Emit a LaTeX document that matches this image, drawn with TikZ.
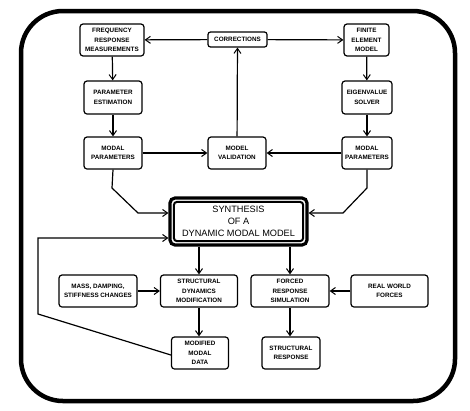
\documentclass[tikz,border=0pt]{standalone}
\usepackage{fontspec}
\setmainfont{Liberation Sans}
\usetikzlibrary{arrows.meta}
\begin{document}
\begin{tikzpicture}[x=1pt,y=-1pt,
  box/.style={draw, line width=1.2pt, rounded corners=3pt, align=center, inner sep=0pt,
    font=\fontsize{6.3}{9.5}\selectfont\bfseries, minimum height=32pt},
  conn/.style={line width=1.2pt, -{Straight Barb[length=5pt,width=7pt,line width=1pt]}},
  seg/.style={line width=1.2pt}]
\useasboundingbox (0,0) rectangle (470,410);
\draw[line width=4.5pt, rounded corners=42pt] (21,11) rectangle (455,401);

\node[box, minimum width=64pt] (freq) at (112,40) {FREQUENCY\\RESPONSE\\MEASUREMENTS};
\node[box, minimum width=59pt, minimum height=15pt, rounded corners=2.5pt] (corr) at (237.5,39.5) {CORRECTIONS};
\node[box, minimum width=45pt] (fem) at (366.5,40) {FINITE\\ELEMENT\\MODEL};
\node[box, minimum width=58pt, minimum height=33pt] (pest) at (113,97.5) {PARAMETER\\ESTIMATION};
\node[box, minimum width=50pt, minimum height=33pt] (eig) at (367,97.5) {EIGENVALUE\\SOLVER};
\node[box, minimum width=58pt] (mpl) at (113,153) {MODAL\\PARAMETERS};
\node[box, minimum width=58pt] (mval) at (237,153) {MODEL\\VALIDATION};
\node[box, minimum width=50pt] (mpr) at (367,153) {MODAL\\PARAMETERS};

\node[draw, line width=3.2pt, rounded corners=5pt, minimum width=137pt, minimum height=47pt,
  align=center, inner sep=0pt, font=\fontsize{9.2}{12}\selectfont] (syn) at (238.5,221.5)
  {SYNTHESIS\\OF A\\DYNAMIC MODAL MODEL};
\draw[line width=2pt, rounded corners=3pt] ([shift={(5.5,5.5)}]syn.north west) rectangle ([shift={(-5.5,-5.5)}]syn.south east);

\node[box, minimum width=78pt] (mass) at (98,291) {MASS, DAMPING,\\STIFFNESS CHANGES};
\node[box, minimum width=77pt] (sdm) at (199,291) {STRUCTURAL\\DYNAMICS\\MODIFICATION};
\node[box, minimum width=78pt] (frs) at (290,291) {FORCED\\RESPONSE\\SIMULATION};
\node[box, minimum width=77pt] (rwf) at (389.5,291) {REAL WORLD\\FORCES};
\node[box, minimum width=57pt] (mmd) at (200,353) {MODIFIED\\MODAL\\DATA};
\node[box, minimum width=58pt] (sres) at (291,353) {STRUCTURAL\\RESPONSE};

\draw[conn] (corr) -- (freq);
\draw[conn] (corr) -- (fem);
\draw[conn] (freq) -- (pest);
\draw[conn] (pest) -- (mpl);
\draw[conn] (fem) -- (eig);
\draw[conn] (eig) -- (mpr);
\draw[conn] (mpl) -- (mval);
\draw[conn] (mpr) -- (mval);
\draw[conn] (mval) -- (corr);

\coordinate (l1) at (112,188);
\coordinate (l2) at (138,213);
\coordinate (r1) at (367,188);
\coordinate (r2) at (343,213);
\draw[conn] (mpl.south) -- (l1) -- (l2) -- (l2 -| syn.west);
\draw[conn] (mpr.south) -- (r1) -- (r2) -- (r2 -| syn.east);

\coordinate (f1) at (38,314);
\coordinate (f2) at (38,238);
\draw[conn] (mmd.west) ++(0,2) -- (f1) -- (f2) -- (f2 -| syn.west);

\draw[conn] (syn.south -| sdm) -- (sdm);
\draw[conn] (syn.south -| frs) -- (frs);
\draw[conn] (mass) -- (sdm);
\draw[conn, line width=2.5pt] (rwf) -- (frs);
\draw[conn] (sdm.south) -- (sdm.south |- mmd.north);
\draw[conn] (frs.south) -- (frs.south |- sres.north);
\end{tikzpicture}
\end{document}
